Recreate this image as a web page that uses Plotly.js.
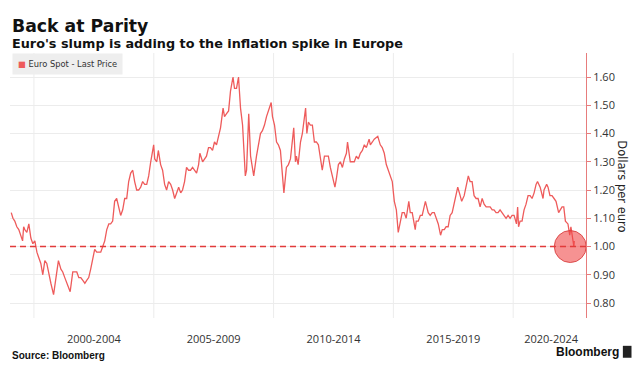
<!DOCTYPE html>
<html>
<head>
<meta charset="utf-8">
<script src="https://cdn.plot.ly/plotly-3.0.1.min.js"></script>
<style>html,body{margin:0;padding:0;background:#fff;}#chart{width:641px;height:378px;}</style>
</head>
<body>
<div id="chart"></div>
<script>
// ---- Data ----
const eurDates = [
"1999-01-20","1999-02-15","1999-03-15","1999-04-15","1999-05-15","1999-06-15","1999-07-12","1999-07-28","1999-08-15","1999-09-15","1999-10-15","1999-11-15","1999-12-15",
"2000-01-15","2000-02-15","2000-03-15","2000-04-15","2000-05-15","2000-06-15","2000-07-15","2000-08-15","2000-09-15","2000-10-26","2000-11-15","2000-12-15",
"2001-01-08","2001-02-15","2001-03-15","2001-04-15","2001-05-15","2001-06-15","2001-07-06","2001-08-15","2001-09-15","2001-10-15","2001-11-15","2001-12-15",
"2002-01-15","2002-02-15","2002-03-15","2002-04-15","2002-05-15","2002-06-15","2002-07-15","2002-08-15","2002-09-15","2002-10-15","2002-11-15","2002-12-15",
"2003-01-15","2003-02-15","2003-03-15","2003-04-15","2003-05-15","2003-06-15","2003-07-15","2003-08-15","2003-09-15","2003-10-15","2003-11-15","2003-12-15",
"2004-01-15","2004-02-15","2004-03-15","2004-04-15","2004-05-15","2004-06-15","2004-07-15","2004-08-15","2004-09-15","2004-10-15","2004-11-15","2004-12-30",
"2005-01-15","2005-02-15","2005-03-11","2005-04-15","2005-05-15","2005-06-15","2005-07-15","2005-08-15","2005-09-15","2005-10-15","2005-11-15","2005-12-15",
"2006-01-15","2006-02-15","2006-03-15","2006-04-15","2006-05-15","2006-06-15","2006-07-15","2006-08-15","2006-09-15","2006-10-15","2006-11-15","2006-12-04",
"2007-01-15","2007-02-15","2007-03-15","2007-04-15","2007-05-15","2007-06-15","2007-07-15","2007-08-15","2007-09-15","2007-10-15","2007-11-23","2007-12-15",
"2008-01-15","2008-02-15","2008-03-15","2008-04-22","2008-05-15","2008-06-15","2008-07-15","2008-08-15","2008-09-15","2008-10-27","2008-11-15","2008-12-18",
"2009-01-15","2009-02-15","2009-03-04","2009-04-15","2009-05-15","2009-06-15","2009-07-15","2009-08-15","2009-09-15","2009-10-15","2009-11-25","2009-12-15",
"2010-01-15","2010-02-15","2010-03-15","2010-04-15","2010-05-15","2010-06-07","2010-07-15","2010-08-15","2010-09-15","2010-10-15","2010-11-04","2010-11-30","2010-12-15",
"2011-01-10","2011-02-15","2011-03-15","2011-04-15","2011-05-04","2011-05-23","2011-06-15","2011-07-15","2011-08-15","2011-09-15","2011-10-15","2011-11-15","2011-12-15",
"2012-01-13","2012-02-15","2012-03-15","2012-04-15","2012-05-15","2012-06-15","2012-07-24","2012-08-15","2012-09-15","2012-10-15","2012-11-15","2012-12-15",
"2013-01-15","2013-02-01","2013-03-15","2013-04-15","2013-05-15","2013-06-15","2013-07-15","2013-08-15","2013-09-15","2013-10-15","2013-11-15","2013-12-27",
"2014-01-15","2014-02-15","2014-03-15","2014-05-08","2014-06-15","2014-07-15","2014-08-15","2014-09-15","2014-10-15","2014-11-15","2014-12-15",
"2015-01-15","2015-02-15","2015-03-16","2015-04-15","2015-05-15","2015-06-15","2015-07-15","2015-08-24","2015-09-15","2015-10-15","2015-11-30","2015-12-15",
"2016-01-15","2016-02-15","2016-03-15","2016-05-03","2016-06-15","2016-07-15","2016-08-15","2016-09-15","2016-10-15","2016-11-15","2016-12-20",
"2017-01-15","2017-02-15","2017-03-15","2017-04-15","2017-05-15","2017-06-15","2017-07-15","2017-08-15","2017-09-08","2017-10-15","2017-11-07","2017-12-15",
"2018-01-15","2018-02-16","2018-03-15","2018-04-15","2018-05-15","2018-06-15","2018-07-15","2018-08-15","2018-09-15","2018-10-15","2018-11-15","2018-12-15",
"2019-01-15","2019-02-15","2019-03-15","2019-04-15","2019-05-15","2019-06-15","2019-07-15","2019-08-15","2019-09-15","2019-10-15","2019-11-15","2019-12-15",
"2020-01-15","2020-02-20","2020-03-09","2020-03-23","2020-04-15","2020-05-15","2020-06-15","2020-07-15","2020-08-15","2020-09-15","2020-10-15","2020-11-15","2020-12-15",
"2021-01-06","2021-02-15","2021-03-31","2021-04-15","2021-05-25","2021-06-15","2021-07-15","2021-08-15","2021-09-15","2021-10-15","2021-11-24","2021-12-15",
"2022-01-15","2022-02-10","2022-03-07","2022-04-15","2022-05-12","2022-05-30","2022-06-15","2022-07-14","2022-07-20"
];
const eurValues = [
1.12,1.10,1.09,1.07,1.06,1.04,1.02,1.07,1.06,1.05,1.08,1.03,1.01,
1.02,0.98,0.96,0.94,0.90,0.95,0.94,0.90,0.87,0.83,0.86,0.90,
0.95,0.92,0.91,0.89,0.87,0.85,0.84,0.91,0.91,0.91,0.89,0.89,
0.88,0.87,0.88,0.89,0.92,0.96,0.99,0.98,0.98,0.98,1.00,1.02,
1.06,1.08,1.08,1.09,1.16,1.17,1.14,1.11,1.13,1.17,1.17,1.23,
1.26,1.27,1.23,1.20,1.20,1.21,1.23,1.22,1.22,1.25,1.30,1.36,
1.31,1.30,1.34,1.29,1.27,1.22,1.20,1.23,1.22,1.20,1.17,1.19,
1.21,1.19,1.20,1.23,1.28,1.27,1.27,1.28,1.27,1.26,1.29,1.33,
1.30,1.31,1.32,1.35,1.35,1.34,1.37,1.36,1.39,1.42,1.49,1.46,
1.47,1.48,1.55,1.60,1.56,1.56,1.60,1.49,1.43,1.25,1.27,1.47,
1.32,1.28,1.25,1.32,1.36,1.40,1.41,1.43,1.46,1.48,1.51,1.46,
1.43,1.37,1.36,1.34,1.26,1.19,1.28,1.29,1.31,1.39,1.42,1.30,1.32,
1.29,1.37,1.40,1.45,1.49,1.40,1.44,1.43,1.43,1.37,1.37,1.36,1.31,
1.27,1.32,1.32,1.32,1.28,1.25,1.21,1.24,1.29,1.30,1.28,1.31,
1.33,1.37,1.30,1.30,1.30,1.32,1.31,1.33,1.34,1.36,1.35,1.38,
1.36,1.37,1.38,1.39,1.36,1.35,1.33,1.29,1.27,1.25,1.23,
1.16,1.13,1.05,1.08,1.12,1.12,1.10,1.16,1.12,1.12,1.06,1.09,
1.09,1.11,1.11,1.16,1.12,1.11,1.12,1.12,1.10,1.08,1.04,
1.06,1.06,1.07,1.07,1.11,1.12,1.15,1.18,1.21,1.18,1.16,1.18,
1.22,1.25,1.23,1.23,1.18,1.17,1.17,1.14,1.17,1.15,1.14,1.14,
1.14,1.13,1.13,1.12,1.12,1.13,1.12,1.11,1.10,1.11,1.10,1.11,
1.11,1.08,1.14,1.07,1.09,1.09,1.13,1.15,1.18,1.18,1.17,1.19,1.22,
1.23,1.21,1.17,1.20,1.22,1.21,1.18,1.18,1.17,1.16,1.12,1.13,
1.14,1.14,1.09,1.08,1.04,1.07,1.04,1.00,1.02
];
const parityLevel = 1.00;
const highlightDate = ["2022-05-20"];
const highlightValue = [1.00];
const periodTickVals = ["2002-07-02","2007-07-02","2012-07-02","2017-07-02","2021-08-01"];
const periodTickText = ["2000-2004","2005-2009","2010-2014","2015-2019","2020-2024"];
const periodBoundaries = ["2000-01-01","2005-01-01","2010-01-01","2015-01-01","2020-01-01"];
const yTickVals = [0.8,0.9,1.0,1.1,1.2,1.3,1.4,1.5,1.6];

const lineColor = "#ee5b5b";
const axisRed = "#e77c7c";
const gridColor = "#ececec";

const traces = [
  {
    type: "scatter", mode: "lines", name: "Euro Spot - Last Price",
    x: eurDates, y: eurValues,
    line: {color: lineColor, width: 1.3},
    hoverinfo: "x+y"
  },
  {
    type: "scatter", mode: "markers", name: "Parity",
    x: highlightDate, y: highlightValue,
    marker: {size: 32, color: "rgba(239,68,68,0.58)", line: {color: "rgba(215,60,60,0.85)", width: 1}},
    hoverinfo: "skip"
  }
];

const shapes = periodBoundaries.map(d => ({
  type: "line", xref: "x", yref: "paper", x0: d, x1: d, y0: 0, y1: 1,
  line: {color: gridColor, width: 1}, layer: "below"
}));
shapes.push({
  type: "line", xref: "paper", yref: "y", x0: 0, x1: 1, y0: parityLevel, y1: parityLevel,
  line: {color: "#e23b3b", width: 1.6, dash: "6px,4px"}, layer: "above"
});
shapes.push({
  type: "rect", xref: "paper", yref: "paper", x0: 1.064, x1: 1.079, y0: -0.15, y1: -0.105,
  fillcolor: "#222", line: {width: 0}
});

const layout = {
  width: 641, height: 378,
  margin: {l: 10, r: 55, t: 53, b: 60},
  paper_bgcolor: "#ffffff", plot_bgcolor: "#ffffff",
  showlegend: false,
  font: {family: "Open Sans, sans-serif", color: "#333"},
  xaxis: {
    type: "date",
    range: ["1999-01-01", "2023-01-15"],
    tickmode: "array", tickvals: periodTickVals, ticktext: periodTickText,
    showgrid: false, zeroline: false, showline: false,
    ticks: "outside", ticklen: 11, tickcolor: "rgba(0,0,0,0)",
    tickfont: {size: 11, color: "#333", family: "Open Sans, sans-serif"},
    fixedrange: true
  },
  yaxis: {
    side: "right",
    range: [0.747, 1.685],
    tickmode: "array", tickvals: yTickVals, tickformat: ".2f",
    showgrid: true, gridcolor: gridColor, gridwidth: 1,
    zeroline: false,
    showline: true, linecolor: axisRed, linewidth: 1,
    ticks: "outside", ticklen: 4, tickcolor: axisRed,
    tickfont: {size: 11, color: "#333", family: "Open Sans, sans-serif"},
    fixedrange: true
  },
  shapes: shapes,
  annotations: [
    {xref: "paper", yref: "paper", x: 0, y: 1.102, xanchor: "left", yanchor: "middle", xshift: 0,
     text: "<b>Back at Parity</b>", showarrow: false,
     font: {family: "DejaVu Sans, sans-serif", size: 17.3, color: "#111"}},
    {xref: "paper", yref: "paper", x: 0, y: 1.036, xanchor: "left", yanchor: "middle", xshift: 0,
     text: "<b>Euro's slump is adding to the inflation spike in Europe</b>", showarrow: false,
     font: {family: "DejaVu Sans, sans-serif", size: 12.8, color: "#111"}},
    {xref: "paper", yref: "paper", x: 0.003, y: 1, xanchor: "left", yanchor: "top",
     text: "<span style='color:" + lineColor + "'>■</span> Euro Spot - Last Price", showarrow: false,
     bgcolor: "#eeeeee", borderpad: 5,
     font: {family: "DejaVu Sans, sans-serif", size: 8.3, color: "#333"}},
    {xref: "paper", yref: "paper", x: 1.0625, y: 0.497, xanchor: "center", yanchor: "middle",
     text: "Dollars per euro", textangle: 90, showarrow: false,
     font: {family: "DejaVu Sans, sans-serif", size: 11.5, color: "#222"}},
    {xref: "paper", yref: "paper", x: 0, y: -0.14, xanchor: "left", yanchor: "middle",
     text: "<b>Source: Bloomberg</b>", showarrow: false,
     font: {family: "Liberation Sans, Arial, sans-serif", size: 10, color: "#111"}},
    {xref: "paper", yref: "paper", x: 1.06, y: -0.128, xanchor: "right", yanchor: "middle",
     text: "<b>Bloomberg</b>", showarrow: false,
     font: {family: "Liberation Sans, Arial, sans-serif", size: 12, color: "#111"}}
  ]
};

Plotly.newPlot("chart", traces, layout, {displayModeBar: false, staticPlot: true});
</script>
</body>
</html>
